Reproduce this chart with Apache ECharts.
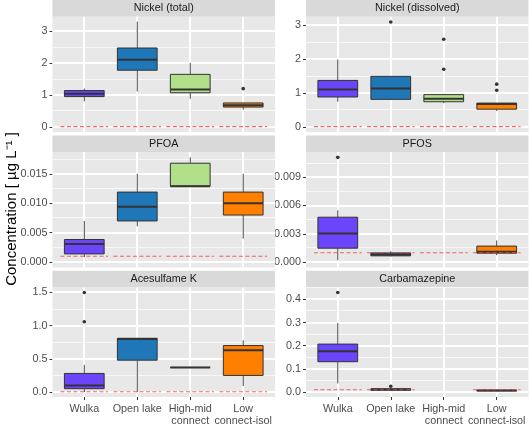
<!DOCTYPE html>
<html><head><meta charset="utf-8">
<script src="https://cdn.jsdelivr.net/npm/echarts@6/dist/echarts.min.js"></script>
<style>html,body{margin:0;padding:0;background:#fff}#c{width:529px;height:427px}</style>
</head><body><div id="c"></div>
<script>
// ---------- data ----------
const categories = ['Wulka', 'Open lake', 'High-mid\nconnect', 'Low\nconnect-isol'];
const panelTitles = ['Nickel (total)', 'Nickel (dissolved)', 'PFOA', 'PFOS', 'Acesulfame K', 'Carbamazepine'];

// box stats per category: [whiskerLow, q1, median, q3, whiskerHigh]
const nickelTotalBox = [[0.80, 0.95, 1.04, 1.14, 1.20], [1.11, 1.78, 2.11, 2.48, 3.31], [0.88, 1.07, 1.17, 1.65, 2.01], [0.54, 0.62, 0.68, 0.75, 0.75]];
const nickelTotalOut = [[], [], [], [1.20]];
const nickelTotalLoq = [0.005, 0.005, 0.005, 0.005];

const nickelDissBox = [[0.74, 0.88, 1.10, 1.37, 1.99], [0.79, 0.81, 1.13, 1.49, 1.49], [0.70, 0.74, 0.83, 0.95, 0.97], [0.47, 0.52, 0.67, 0.70, 0.70]];
const nickelDissOut = [[], [3.10], [2.59, 1.70], [1.26, 1.08]];
const nickelDissLoq = [0.005, 0.005, 0.005, 0.005];

const pfoaBox = [[0.00085, 0.0014, 0.0031, 0.00385, 0.0070], [0.0061, 0.0070, 0.0094, 0.0119, 0.0150], [0.0129, 0.0129, 0.0129, 0.0168, 0.0178], [0.0040, 0.0080, 0.0100, 0.0119, 0.0150]];
const pfoaOut = [[], [], [], []];
const pfoaLoq = [0.001, 0.001, 0.001, 0.001];

const pfosBox = [[0.0002, 0.00148, 0.00303, 0.00476, 0.0055], [0.0006, 0.00067, 0.0008, 0.00098, 0.00116], null, [0.00074, 0.00095, 0.0011, 0.0017, 0.0023]];
const pfosOut = [[0.0111], [], [], []];
const pfosLoq = [0.001, 0.001, 0.001, 0.001];

const aceBox = [[0.0, 0.05, 0.10, 0.28, 0.41], [0.0, 0.48, 0.80, 0.81, 0.81], [0.37, 0.37, 0.37, 0.37, 0.37], [0.09, 0.25, 0.63, 0.70, 0.78]];
const aceOut = [[1.50, 1.06], [], [], []];
const aceLoq = [0.005, 0.005, 0.005, 0.005];

const carbBox = [[0.037, 0.131, 0.176, 0.207, 0.298], [0.006, 0.008, 0.011, 0.014, 0.017], null, [0.004, 0.005, 0.007, 0.008, 0.009]];
const carbOut = [[0.43], [0.025], [], []];
const carbLoq = [0.01, 0.01, null, 0.01];

// y-axis ticks per panel
const nickelTotalTicks = [0, 1, 2, 3];
const nickelDissTicks = [0, 1, 2, 3];
const pfoaTicks = [0, 0.005, 0.010, 0.015];
const pfosTicks = [0, 0.003, 0.006, 0.009];
const aceTicks = [0, 0.5, 1.0, 1.5];
const carbTicks = [0, 0.1, 0.2, 0.3, 0.4];

// ---------- styling / layout ----------
const boxColors = ['#6A45FA', '#1F77B8', '#B2DF8A', '#FF7F00'];
const FONT = '"Liberation Sans", Arial, Helvetica, sans-serif';
const panels = [
  {box: nickelTotalBox, out: nickelTotalOut, loq: nickelTotalLoq, ticks: nickelTotalTicks, dec: 0, min: -0.165, max: 3.465},
  {box: nickelDissBox, out: nickelDissOut, loq: nickelDissLoq, ticks: nickelDissTicks, dec: 0, min: -0.155, max: 3.255},
  {box: pfoaBox, out: pfoaOut, loq: pfoaLoq, ticks: pfoaTicks, dec: 3, min: -0.00089, max: 0.01869},
  {box: pfosBox, out: pfosOut, loq: pfosLoq, ticks: pfosTicks, dec: 3, min: -0.000555, max: 0.011655},
  {box: aceBox, out: aceOut, loq: aceLoq, ticks: aceTicks, dec: 1, min: -0.075, max: 1.575},
  {box: carbBox, out: carbOut, loq: carbLoq, ticks: carbTicks, dec: 1, min: -0.0215, max: 0.4515}
];
const colLeft = [52.5, 306];
const panelW = 222.5;
const stripH = 16.7;
const rowPeriod = 135.4;
const panelH = 115.3;
const X_MIN = -0.6, X_MAX = 3.6;

function minorTicks(t) {
  const step = t[1] - t[0];
  const res = [];
  for (let i = -1; i < t.length; i++) res.push(t[0] + step * (i + 0.5));
  return res;
}

const grids = [], xAxes = [], yAxes = [], series = [], graphics = [];
panels.forEach((p, i) => {
  const r = Math.floor(i / 2), c = i % 2;
  const top = stripH + r * rowPeriod;
  grids.push({left: colLeft[c], top: top, width: panelW, height: panelH, show: false, containLabel: false});
  const bottomRow = r === 2;
  xAxes.push({type: 'value', gridIndex: i, min: X_MIN, max: X_MAX, position: 'bottom',
    axisLine: {show: false, onZero: false},
    axisTick: {show: bottomRow, length: 3, lineStyle: {color: '#333333', width: 1}, customValues: [0, 1, 2, 3]},
    axisLabel: {show: bottomRow, customValues: [0, 1, 2, 3], formatter: v => categories[Math.round(v)],
      color: '#4D4D4D', fontSize: 10.8, fontFamily: FONT, lineHeight: 12, margin: 6},
    splitLine: {show: false}});
  yAxes.push({type: 'value', gridIndex: i, min: p.min, max: p.max, position: 'left',
    axisLine: {show: false, onZero: false},
    axisTick: {show: true, length: 3, lineStyle: {color: '#333333', width: 1}, customValues: p.ticks},
    axisLabel: {show: true, customValues: p.ticks, formatter: v => Number(v).toFixed(p.dec),
      color: '#4D4D4D', fontSize: 10.8, fontFamily: FONT, margin: 5},
    splitLine: {show: false}});

  // panel background + grid lines (drawn through the axes' scales)
  const gridData = [[3, 0]];
  minorTicks(p.ticks).filter(v => v > p.min && v < p.max).forEach(v => gridData.push([0, v]));
  p.ticks.forEach(v => gridData.push([1, v]));
  [0, 1, 2, 3].forEach(k => gridData.push([2, k]));
  series.push({type: 'custom', xAxisIndex: i, yAxisIndex: i, data: gridData, z: 1,
    renderItem: function (params, api) {
      const kind = api.value(0), v = api.value(1);
      const tl = api.coord([X_MIN, p.max]), br = api.coord([X_MAX, p.min]);
      if (kind === 3) {
        return {type: 'rect', z2: 0, shape: {x: tl[0], y: tl[1], width: br[0] - tl[0], height: br[1] - tl[1]},
          style: {fill: '#E8E8E8'}};
      }
      if (kind === 2) {
        const x = Math.round(api.coord([v, p.min])[0]);
        return {type: 'rect', z2: 5, shape: {x: x - 1, y: tl[1], width: 2, height: br[1] - tl[1]},
          style: {fill: '#FFFFFF'}};
      }
      const yv = api.coord([X_MIN, v])[1];
      if (kind === 1) {
        const y = Math.round(yv);
        return {type: 'rect', z2: 5, shape: {x: tl[0], y: y - 1, width: br[0] - tl[0], height: 2},
          style: {fill: '#FFFFFF'}};
      }
      const y = Math.floor(yv);
      return {type: 'rect', z2: 3, shape: {x: tl[0], y: y, width: br[0] - tl[0], height: 1},
        style: {fill: '#F8F8F8'}};
    }, silent: true, animation: false});

  const boxData = [];
  p.box.forEach((b, k) => { if (b) boxData.push([k].concat(b)); });
  series.push({type: 'custom', xAxisIndex: i, yAxisIndex: i, data: boxData, z: 5,
    renderItem: function (params, api) {
      const x = api.value(0);
      const v = [1, 2, 3, 4, 5].map(k => api.value(k));
      const half = api.size([0.75, 0])[0] / 2;
      const cx = api.coord([x, v[2]])[0];
      const y = val => api.coord([x, val])[1];
      const stroke = '#333333';
      return {type: 'group', children: [
        {type: 'line', shape: {x1: cx, y1: y(v[0]), x2: cx, y2: y(v[1])}, style: {stroke: '#444', lineWidth: 1}},
        {type: 'line', shape: {x1: cx, y1: y(v[3]), x2: cx, y2: y(v[4])}, style: {stroke: '#444', lineWidth: 1}},
        {type: 'rect', shape: {x: cx - half, y: y(v[3]), width: 2 * half, height: y(v[1]) - y(v[3])},
          style: {fill: boxColors[x], stroke: stroke, lineWidth: 1}},
        {type: 'line', shape: {x1: cx - half, y1: y(v[2]), x2: cx + half, y2: y(v[2])}, style: {stroke: stroke, lineWidth: 2}}
      ]};
    }, silent: true, animation: false});

  const outData = [];
  p.out.forEach((arr, k) => arr.forEach(v => outData.push([k, v])));
  series.push({type: 'scatter', xAxisIndex: i, yAxisIndex: i, data: outData, symbolSize: 3.6, z: 6,
    itemStyle: {color: '#000000'}, silent: true, animation: false});

  const loqData = [];
  p.loq.forEach((v, k) => { if (v !== null) loqData.push([k, v]); });
  series.push({type: 'custom', xAxisIndex: i, yAxisIndex: i, data: loqData, z: 7,
    renderItem: function (params, api) {
      const x = api.value(0), v = api.value(1);
      const a = api.coord([x - 0.45, v]), b = api.coord([x + 0.45, v]);
      return {type: 'line', shape: {x1: a[0], y1: a[1], x2: b[0], y2: b[1]},
        style: {stroke: '#F04A4A', lineWidth: 1.1, lineDash: [4, 2.5], opacity: 0.85}};
    }, silent: true, animation: false});

  // facet strip
  graphics.push({type: 'rect', shape: {x: colLeft[c], y: top - stripH, width: panelW, height: stripH},
    style: {fill: '#D9D9D9'}, silent: true});
  graphics.push({type: 'text', x: colLeft[c] + panelW / 2, y: top - stripH / 2,
    style: {text: panelTitles[i], fill: '#1A1A1A', font: '10.8px ' + FONT, textAlign: 'center', textVerticalAlign: 'middle'}, silent: true});
});

graphics.push({type: 'text', x: 12, y: 209, rotation: Math.PI / 2,
  style: {text: 'Concentration [ µg L⁻¹ ]', fill: '#000000', font: '15px ' + FONT, textAlign: 'center', textVerticalAlign: 'middle'}, silent: true});

const chart = echarts.init(document.getElementById('c'), null, {renderer: 'canvas'});
chart.setOption({animation: false, grid: grids, xAxis: xAxes, yAxis: yAxes, series: series, graphic: graphics});
</script></body></html>
